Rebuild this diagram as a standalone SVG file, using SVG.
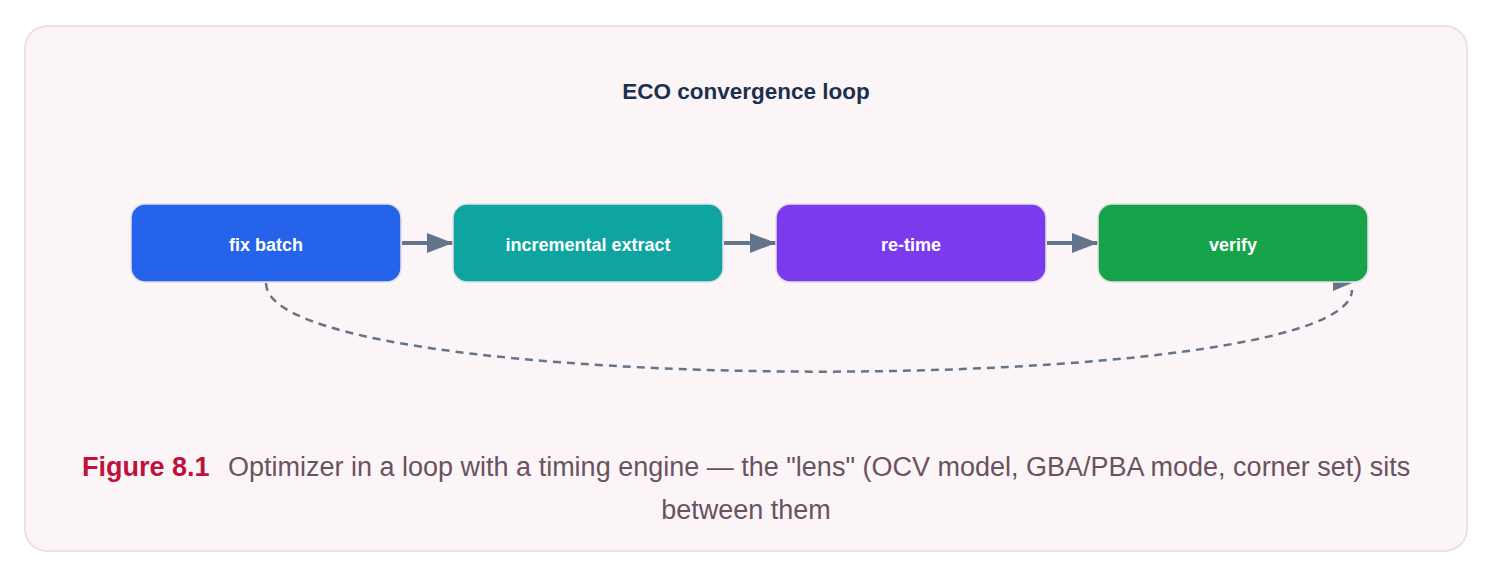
<svg xmlns="http://www.w3.org/2000/svg" width="1494" height="579" viewBox="0 0 1494 579">
<style>
.node rect{stroke:#e2dfe6;stroke-width:1.5}
.lbl{font-family:"Liberation Sans",Arial,sans-serif;font-weight:bold;font-size:18px;fill:#ffffff;text-anchor:middle}
.edge{stroke:#64748b;stroke-width:4;fill:none}
.loop{stroke:#64748b;stroke-width:2.5;fill:none;stroke-dasharray:8 6}
</style>
<defs>
<marker id="ah" markerWidth="26" markerHeight="20" refX="26" refY="10" orient="auto" markerUnits="userSpaceOnUse">
<path d="M0,0 L26,10 L0,20 Z" fill="#64748b"/>
</marker>
</defs>
<rect x="25" y="26" width="1442" height="525" rx="22" fill="#fcf5f7" stroke="#f3dce3" stroke-width="2"/>
<text x="746" y="99" font-family="Liberation Sans, Arial, sans-serif" font-weight="bold" font-size="22.5" fill="#1b3050" text-anchor="middle">ECO convergence loop</text>
<g id="connectors">
<line class="edge" x1="402" y1="243" x2="453" y2="243" marker-end="url(#ah)"/>
<line class="edge" x1="724" y1="243" x2="776" y2="243" marker-end="url(#ah)"/>
<line class="edge" x1="1047" y1="243" x2="1098" y2="243" marker-end="url(#ah)"/>
<path class="loop" d="M266,283 C266,400 1352,400 1352,290"/>
<path d="M1333,275 L1352,283 L1333,291 Z" fill="#64748b"/>
</g>
<g id="fix-batch" class="node"><rect x="131" y="204" width="270" height="78" rx="14" fill="#2563eb"/><text class="lbl" x="266" y="251">fix batch</text></g>
<g id="incremental-extract" class="node"><rect x="453" y="204" width="270" height="78" rx="14" fill="#0ea5a0"/><text class="lbl" x="588" y="251">incremental extract</text></g>
<g id="re-time" class="node"><rect x="776" y="204" width="270" height="78" rx="14" fill="#7c3aed"/><text class="lbl" x="911" y="251">re-time</text></g>
<g id="verify" class="node"><rect x="1098" y="204" width="270" height="78" rx="14" fill="#16a34a"/><text class="lbl" x="1233" y="251">verify</text></g>
<g id="caption" font-family="Liberation Sans, Arial, sans-serif" font-size="27">
<text x="82" y="476"><tspan font-weight="bold" fill="#be123c">Figure 8.1</tspan><tspan x="228" fill="#6b5260">Optimizer in a loop with a timing engine — the "lens" (OCV model, GBA/PBA mode, corner set) sits</tspan></text>
<text x="746" y="519" fill="#6b5260" text-anchor="middle">between them</text>
</g>
</svg>
